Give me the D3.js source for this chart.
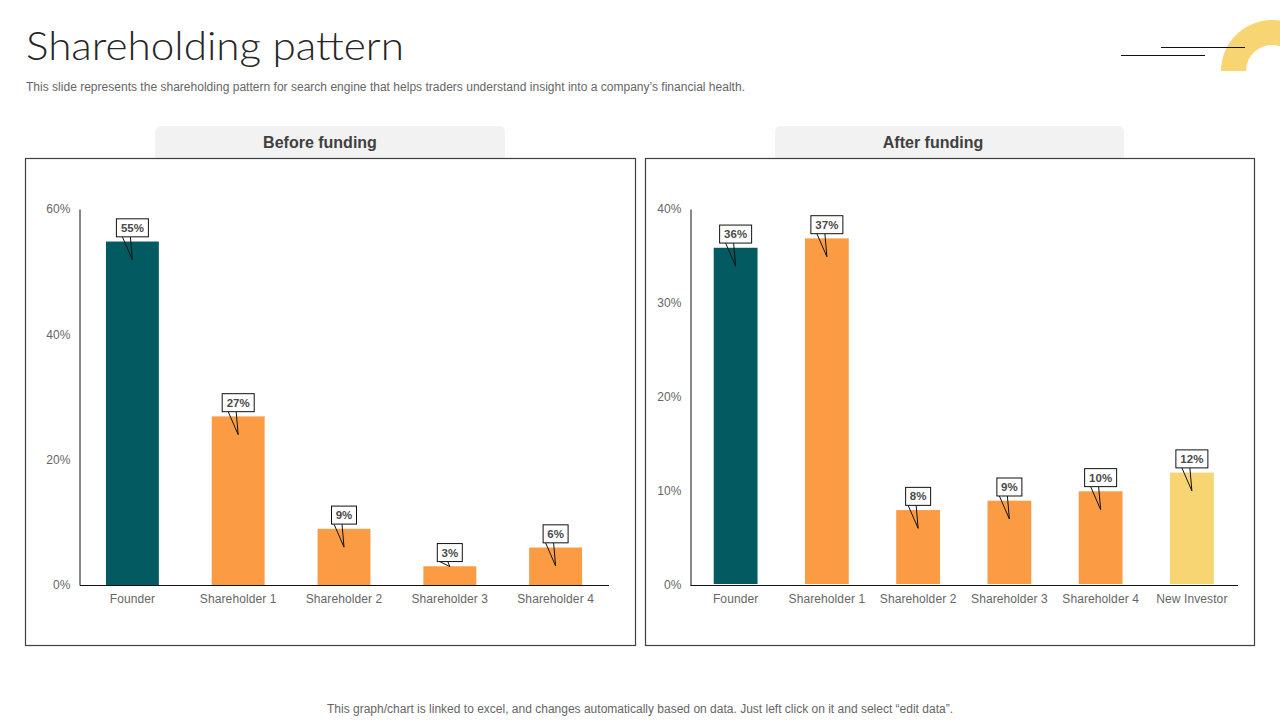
<!DOCTYPE html>
<html>
<head>
<meta charset="utf-8">
<script src="https://cdn.jsdelivr.net/npm/d3@7"></script>
<style>
  html, body { margin: 0; padding: 0; background: #fff; }
  svg { display: block; }
  text { font-family: "Liberation Sans", Arial, sans-serif; }
  .tick text { font-size: 12px; fill: #666; letter-spacing: 0.1px; }
</style>
</head>
<body>
<svg id="chart" width="1280" height="720"></svg>
<script>
//data
const beforeCats = ["Founder", "Shareholder 1", "Shareholder 2", "Shareholder 3", "Shareholder 4"];
const beforeVals = [55, 27, 9, 3, 6];
const beforeTicks = [0, 20, 40, 60];

const afterCats = ["Founder", "Shareholder 1", "Shareholder 2", "Shareholder 3", "Shareholder 4", "New Investor"];
const afterVals = [36, 37, 8, 9, 10, 12];
const afterTicks = [0, 10, 20, 30, 40];

const teal = "#045a61";
const orange = "#fb9b44";
const yellow = "#f8d573";

const svg = d3.select("#chart");

//header
svg.append("text")
  .attr("x", 26).attr("y", 60)
  .attr("textLength", 378)
  .attr("lengthAdjust", "spacingAndGlyphs")
  .style("font-family", "Lato")
  .style("font-weight", 300)
  .style("font-size", "39px")
  .attr("fill", "#262626")
  .text("Shareholding pattern");

svg.append("text")
  .attr("x", 26).attr("y", 91)
  .attr("textLength", 719)
  .style("font-size", "12px")
  .attr("fill", "#666")
  .text("This slide represents the shareholding pattern for search engine that helps traders understand insight into a company\u2019s financial health.");

//corner decoration
const arc = d3.arc()
  .innerRadius(26).outerRadius(51)
  .startAngle(-Math.PI / 2).endAngle(Math.PI / 2);
svg.append("path")
  .attr("transform", "translate(1272,71)")
  .attr("d", arc())
  .attr("fill", yellow);

svg.append("line").attr("x1", 1161).attr("x2", 1245).attr("y1", 47.5).attr("y2", 47.5).attr("stroke", "#111");
svg.append("line").attr("x1", 1121).attr("x2", 1205).attr("y1", 55.5).attr("y2", 55.5).attr("stroke", "#111");

//footer
svg.append("text")
  .attr("x", 640).attr("y", 713)
  .attr("text-anchor", "middle")
  .attr("textLength", 626)
  .style("font-size", "12px")
  .attr("fill", "#666")
  .text("This graph/chart is linked to excel, and changes automatically based on data. Just left click on it and select \u201cedit data\u201d.");

function drawPanel(opt) {
  const g = svg.append("g");

  //title tab, sits behind the frame
  g.append("rect")
    .attr("x", opt.tab[0]).attr("y", 126)
    .attr("width", opt.tab[1] - opt.tab[0]).attr("height", 40)
    .attr("rx", 6)
    .attr("fill", "#f2f2f2");
  g.append("rect")
    .attr("x", opt.frame[0]).attr("y", 158.5)
    .attr("width", opt.frame[1] - opt.frame[0]).attr("height", 487)
    .attr("fill", "#fff")
    .attr("stroke", "#404040")
    .attr("stroke-width", 1.2);
  g.append("text")
    .attr("x", opt.titleX).attr("y", 148)
    .attr("text-anchor", "middle")
    .style("font-size", "16px")
    .style("font-weight", "bold")
    .attr("fill", "#404040")
    .text(opt.title);

  const xScale = d3.scaleBand()
    .domain(opt.cats)
    .range(opt.xRange)
    .paddingInner(opt.pad)
    .paddingOuter(opt.pad / 2);

  //axis labels sit a little above the bars' own 0-to-max span
  const yScale = d3.scaleLinear()
    .domain([0, d3.max(opt.ticks)])
    .range([585, 209]);
  const barScale = d3.scaleLinear()
    .domain([0, d3.max(opt.ticks)])
    .range([585, 210.3]);

  const bars = opt.cats.map((c, i) => ({ cat: c, val: opt.vals[i], color: opt.colors[i] }));

  g.selectAll(".bar")
    .data(bars)
    .enter()
    .append("rect")
    .attr("class", "bar")
    .attr("x", d => xScale(d.cat))
    .attr("y", d => barScale(d.val))
    .attr("width", xScale.bandwidth())
    .attr("height", d => opt.barBase - barScale(d.val))
    .attr("fill", d => d.color);

  const yAxis = d3.axisLeft(yScale)
    .tickValues(opt.ticks)
    .tickFormat(d => d + "%")
    .tickSize(0)
    .tickPadding(9);
  const yG = g.append("g")
    .attr("transform", "translate(" + opt.axisX + ",0)")
    .call(yAxis);
  yG.select(".domain").attr("stroke", "#111");

  const xAxis = d3.axisBottom(xScale).tickSize(0).tickPadding(9);
  const xG = g.append("g")
    .attr("transform", "translate(0,585)")
    .call(xAxis);
  xG.select(".domain").attr("stroke", "#111");

  //callouts
  const labels = g.selectAll(".callout")
    .data(bars)
    .enter()
    .append("g")
    .attr("class", "callout")
    .attr("transform", d => "translate(" + (xScale(d.cat) + xScale.bandwidth() / 2) + "," + (barScale(d.val) - 0.7) + ")");

  labels.append("path")
    .attr("d", d => {
      const tall = 585 - barScale(d.val) > 30;
      const tip = tall ? 19 : 1;
      return d3.line()([[-10, -4], [0, tip], [-2, -4]]);
    })
    .attr("fill", "none")
    .attr("stroke", "#111");

  labels.append("rect")
    .attr("x", d => d.val >= 10 ? -16 : -12.5)
    .attr("y", -22)
    .attr("width", d => d.val >= 10 ? 32 : 25)
    .attr("height", 18)
    .attr("fill", "#fff")
    .attr("stroke", "#111");

  labels.append("text")
    .attr("y", -9)
    .attr("text-anchor", "middle")
    .style("font-size", "11.5px")
    .style("font-weight", "bold")
    .attr("fill", "#4a4a4a")
    .text(d => d.val + "%");
}

drawPanel({
  title: "Before funding",
  titleX: 320,
  tab: [155, 505],
  frame: [25.5, 635.5],
  axisX: 79.5,
  xRange: [79.5, 608.5],
  barBase: 585,
  pad: 0.5,
  cats: beforeCats,
  vals: beforeVals,
  ticks: beforeTicks,
  colors: [teal, orange, orange, orange, orange]
});

drawPanel({
  title: "After funding",
  titleX: 933,
  tab: [775, 1124],
  frame: [645.5, 1254.5],
  axisX: 690.5,
  xRange: [690, 1237.5],
  barBase: 584,
  pad: 0.52,
  cats: afterCats,
  vals: afterVals,
  ticks: afterTicks,
  colors: [teal, orange, orange, orange, orange, yellow]
});
</script>
</body>
</html>
